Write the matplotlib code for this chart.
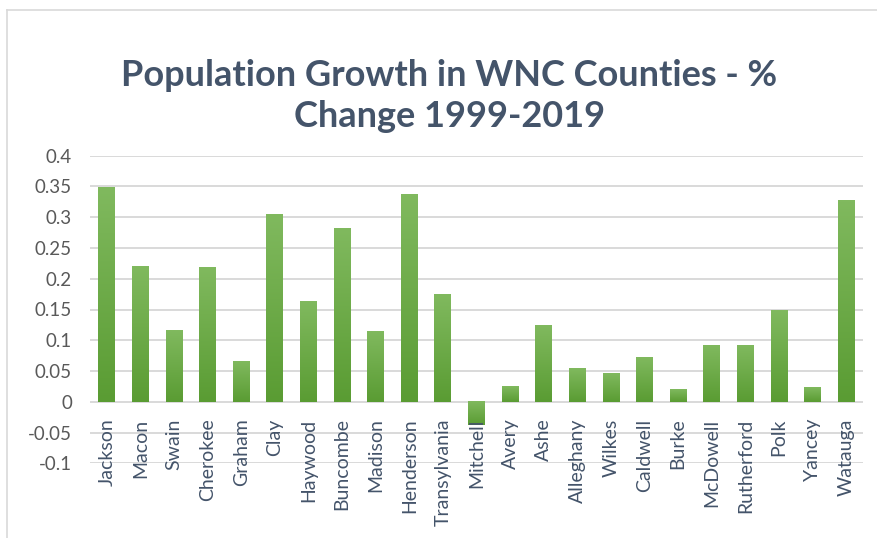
import numpy as np
import matplotlib
matplotlib.use("Agg")
import matplotlib.pyplot as plt
from matplotlib.colors import LinearSegmentedColormap
from matplotlib.lines import Line2D

counties = ["Jackson", "Macon", "Swain", "Cherokee", "Graham", "Clay", "Haywood",
            "Buncombe", "Madison", "Henderson", "Transylvania", "Mitchell", "Avery",
            "Ashe", "Alleghany", "Wilkes", "Caldwell", "Burke", "McDowell",
            "Rutherford", "Polk", "Yancey", "Watauga"]
growth = [0.349, 0.220, 0.117, 0.219, 0.066, 0.304, 0.164,
          0.282, 0.115, 0.337, 0.175, -0.038, 0.026,
          0.125, 0.054, 0.047, 0.072, 0.020, 0.092,
          0.092, 0.149, 0.024, 0.327]
yticks = [-0.1, -0.05, 0, 0.05, 0.1, 0.15, 0.2, 0.25, 0.3, 0.35, 0.4]
ytick_labels = ["-0.1", "-0.05", "0", "0.05", "0.1", "0.15", "0.2", "0.25", "0.3", "0.35", "0.4"]

TEXT = "#44546A"
GRID = "#D9D9D9"
plt.rcParams["font.family"] = ["Lato", "DejaVu Sans"]

fig = plt.figure(figsize=(8.78, 5.38), dpi=100)
ax = fig.add_axes([90 / 878, 1 - 463.3 / 538, 773 / 878, 307.6 / 538])

x = np.arange(len(counties))
bars = ax.bar(x, growth, width=0.5, color="none", zorder=2)

# vertical green gradient inside each bar, lighter at the top
green = LinearSegmentedColormap.from_list("g", ["#5A9C33", "#80B95E"])
grad = np.linspace(0, 1, 64).reshape(-1, 1)
for b in bars:
    bx, by, bw, bh = b.get_x(), b.get_y(), b.get_width(), b.get_height()
    lo, hi = min(by, by + bh), max(by, by + bh)
    ax.imshow(grad, extent=[bx, bx + bw, lo, hi], origin="lower", cmap=green,
              aspect="auto", zorder=2, interpolation="bilinear")

ax.set_xlim(-0.5, len(counties) - 0.5)
ax.set_ylim(-0.1, 0.4)
ax.set_yticks(yticks)
ax.set_yticklabels(ytick_labels)
ax.set_xticks([])
ax.tick_params(axis="y", length=0, pad=13, labelsize=13.5, labelcolor="#595959")
ax.grid(axis="y", color=GRID, lw=1.4, zorder=0)
ax.set_axisbelow(True)
for s in ax.spines.values():
    s.set_visible(False)

# category labels hang just below the zero line
for i, name in enumerate(counties):
    ax.annotate(name, (i, 0), xytext=(0, -12), textcoords="offset points",
                rotation=90, ha="center", va="top", fontsize=14, color=TEXT,
                zorder=5, annotation_clip=False)

fig.text(0.512, 0.822, "Population Growth in WNC Counties - %\nChange 1999-2019",
         ha="center", va="center", fontsize=26, fontweight="bold", color=TEXT,
         linespacing=1.3)

# light chart-area border
top = 1 - 10 / 538
left = 7 / 878
fig.add_artist(Line2D([left, 1], [top, top], color=GRID, lw=1.2))
fig.add_artist(Line2D([left, left], [0, top], color=GRID, lw=1.2))

fig.savefig("out.png", dpi=100)
